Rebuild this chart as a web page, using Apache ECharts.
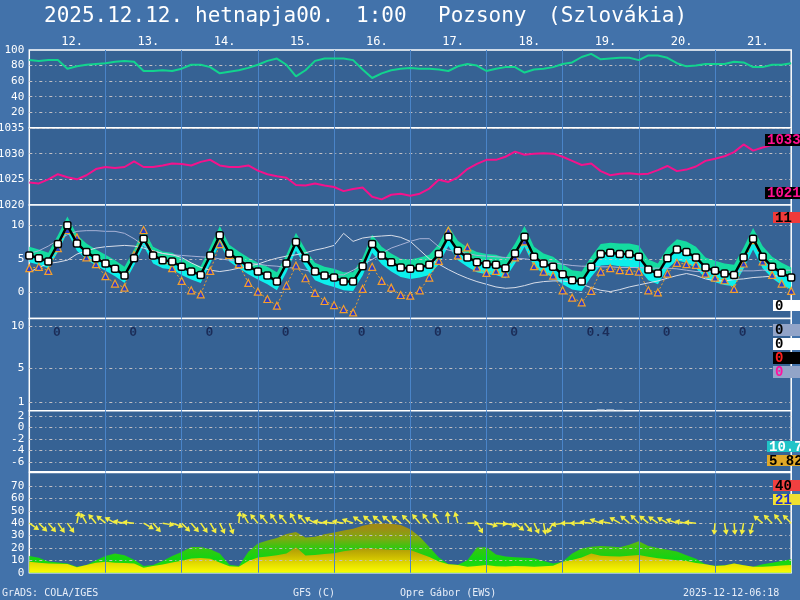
<!DOCTYPE html>
<html><head><meta charset="utf-8">
<script src="https://cdn.jsdelivr.net/npm/echarts@6/dist/echarts.min.js"></script>
<style>html,body{margin:0;padding:0;background:#4272aa;}#c{width:800px;height:600px;}</style>
</head><body><div id="c"></div>
<script>
// ---------------- DATA ----------------
const hours = []; for (let h = 0; h <= 240; h += 3) hours.push(h);
const dayLabels = ['12.','13.','14.','15.','16.','17.','18.','19.','20.','21.'];
const titleParts = ['2025.12.12.','hetnapja00.','1:00','Pozsony','(Szlovákia)'];
const footerParts = ['GrADS: COLA/IGES','GFS (C)','Opre Gábor (EWS)','2025-12-12-06:18'];

const humidity = [87,86,87,87,76,79,81,82,83,85, 86,85,73,73,74,73,76,81,81,78, 70,72,74,77,81,86,89,81,66,74,
  86,89,89,89,87,75,64,70,74,76, 77,76,76,75,73,79,82,80,73,76, 78,78,71,75,76,78,82,84,91,95,
  88,89,90,90,87,93,93,90,83,79, 80,82,82,82,85,84,78,78,81,81,83];
const pressure = [1024.4,1024.2,1025.0,1026.0,1025.4,1025.0,1025.8,1027.0,1027.4,1027.2,
  1027.4,1028.5,1027.4,1027.4,1027.7,1028.1,1028.0,1027.7,1028.4,1028.8,
  1027.7,1027.4,1027.4,1027.7,1026.7,1026.0,1025.6,1025.3,1023.9,1023.8,
  1024.2,1023.8,1023.5,1022.7,1023.1,1023.4,1021.6,1021.1,1022.0,1022.2,
  1021.8,1022.2,1023.2,1024.9,1024.5,1025.4,1027.0,1028.0,1028.8,1028.8,
  1029.4,1030.4,1029.8,1030.0,1030.1,1030.0,1029.4,1028.6,1027.8,1028.1,
  1026.6,1025.8,1026.1,1026.2,1026.0,1026.1,1026.8,1027.6,1026.6,1026.9,
  1027.5,1028.6,1029.0,1029.5,1030.3,1031.8,1030.6,1031.2,1031.7,1032.3,1033.0];
const tempMain = [5.5,5.1,4.6,7.2,10.0,7.3,6.0,5.1,4.3,3.5, 2.5,5.1,8.0,5.5,4.8,4.6,3.8,3.1,2.6,5.5,
  8.5,5.8,4.8,3.9,3.1,2.5,1.6,4.3,7.5,5.1, 3.1,2.5,2.2,1.6,1.6,3.9,7.2,5.5,4.5,3.7,
  3.5,3.7,4.1,5.7,8.3,6.2,5.2,4.5,4.2,4.1, 3.6,5.8,8.3,5.3,4.3,3.8,2.7,1.8,1.6,3.8,
  5.7,5.9,5.7,5.7,5.3,3.4,2.8,5.1,6.4,6.0, 5.2,3.7,3.2,2.8,2.6,5.2,8.0,5.3,3.8,2.9,2.2];
const tempHigh = [6.8,6.4,5.9,8.5,11.3,8.6,7.3,6.4,5.6,4.8, 3.8,6.4,9.4,6.8,6.1,5.9,5.1,4.4,3.9,6.8,
  9.9,7.1,6.1,5.2,4.4,3.8,3.0,5.6,8.9,6.4, 4.4,3.8,3.5,3.0,3.0,5.2,8.6,6.8,5.8,5.0,
  4.9,5.2,5.6,7.2,9.9,7.7,6.7,6.0,5.7,5.6, 5.1,7.3,9.9,6.8,5.8,5.3,4.2,3.3,3.1,5.3,
  7.2,7.4,7.3,7.3,7.0,4.9,4.3,6.6,7.9,7.6, 6.8,5.2,4.7,4.3,4.1,6.7,9.6,6.9,5.3,4.4,3.7];
const tempLow = [4.5,4.1,3.6,6.0,9.0,6.2,4.9,4.0,3.2,2.4, 1.4,4.0,6.9,4.3,3.6,3.4,2.6,1.9,1.4,4.3,
  7.3,4.6,3.6,2.7,1.9,1.2,0.3,3.0,6.2,3.8, 1.8,1.2,0.8,0.3,0.2,2.5,5.9,4.2,3.1,2.3,
  2.0,2.2,2.6,4.2,6.9,4.8,3.8,3.0,2.7,2.6, 2.1,4.3,6.8,3.8,2.8,2.3,1.2,0.4,0.2,2.3,
  4.0,4.1,3.9,3.8,3.5,1.8,1.2,3.5,4.8,4.4, 3.6,2.1,1.5,1.1,0.9,3.5,6.4,3.6,2.1,1.1,0.4];
const dewPoint = [3.6,3.8,3.2,6.6,9.3,8.2,5.2,4.2,2.4,1.3, 0.7,5.6,9.3,5.6,4.8,3.6,1.7,0.3,-0.3,3.2,
  7.2,5.6,4.2,1.4,0.1,-1.0,-2.0,1.0,4.0,2.1, -0.1,-1.3,-1.9,-2.5,-3.0,0.5,3.8,1.7,0.7,-0.4,
  -0.5,0.3,2.2,4.7,9.2,5.5,6.7,3.7,2.9,3.2, 2.8,5.2,7.6,3.9,3.1,2.5,0.3,-0.8,-1.5,0.2,
  3.1,3.6,3.3,3.2,3.1,0.3,0.0,2.8,4.4,4.2, 4.1,2.8,2.2,1.8,0.5,4.3,7.8,4.6,2.6,1.3,0.2];
const tempLineA = [3.0,3.7,4.3,4.5,4.8,5.7,6.2,6.6,6.8,6.9, 7.0,6.9,6.6,6.2,5.8,5.6,5.2,4.4,3.7,3.3,
  3.1,3.3,3.6,3.9,4.2,4.7,5.1,5.4,5.6,5.9, 6.3,6.6,7.0,8.8,7.6,8.1,8.3,8.4,8.5,8.2,
  7.6,6.3,5.0,4.2,3.4,2.7,2.1,1.6,1.2,0.8, 0.6,0.7,1.0,1.4,1.6,1.7,1.7,1.5,1.2,0.7,
  0.3,0.1,0.4,0.8,1.1,1.4,1.7,2.1,2.5,2.8, 2.5,2.0,1.7,1.7,1.9,2.0,2.2,2.3,2.4,2.5,2.5];
const tempLineB = [5.8,6.2,6.9,7.8,8.6,9.1,9.2,9.2,9.1,9.1, 8.8,8.0,7.0,6.2,5.8,5.6,5.5,5.4,5.3,5.2,
  5.0,4.8,4.6,4.4,4.2,4.0,3.9,3.7,3.6,3.3, 3.0,2.7,2.6,2.6,3.3,4.1,4.9,5.8,6.6,7.1,
  7.6,8.0,8.0,6.8,6.3,6.0,5.8,5.5,5.4,5.3, 5.2,5.1,5.0,4.8,4.6,4.4,4.2,4.0,3.9,3.9,
  3.8,3.8,3.7,3.7,3.7,3.6,3.6,3.6,3.5,3.3, 3.1,3.1,3.1,3.1,3.1,3.2,3.2,3.3,3.3,3.3,3.3];
const precip3h = [0,0,0,0,0,0,0,0,0,0, 0,0,0,0,0,0,0,0,0,0, 0,0,0,0,0,0,0,0,0,0, 0,0,0,0,0,0,0,0,0,0,
  0,0,0,0,0,0,0,0,0,0, 0,0,0,0,0,0,0,0,0,0, 0.15,0.15,0.1,0,0,0,0,0,0,0, 0,0,0,0,0,0,0,0,0,0,0];
const dailyPrecip = [0,0,0,0,0,0,0,0.4,0,0];
const windSpeed = [8.9,8.1,7.5,7.3,7.0,4.3,6.2,8.1,8.9,8.1, 7.8,7.5,4.0,5.4,6.6,8.2,9.7,11.4,11.9,11.2,
  8.3,5.2,4.9,9.5,12.2,13.0,14.0,15.6,20.5,13.8, 14.2,15.0,15.8,17.3,18.3,19.8,19.8,19.0,18.5,18.3,
  18.3,15.6,12.6,9.1,6.8,6.3,4.9,5.4,6.2,5.3, 5.0,5.4,5.2,4.9,5.2,5.6,8.9,10.2,12.3,15.6,
  13.6,13.2,13.0,13.6,14.3,12.8,11.6,10.8,10.0,9.4, 7.8,6.8,5.5,5.8,7.5,6.0,4.9,4.9,5.2,5.8,6.2];
const windGust = [13.5,12.0,9.0,8.2,7.5,4.9,6.2,10.0,13.5,15.6, 14.0,10.5,5.5,6.3,9.5,13.5,16.8,20.8,20.8,19.0,
  15.6,6.5,5.4,17.0,23.5,26.0,28.0,31.3,32.8,28.5, 29.0,31.0,32.5,34.0,35.5,38.0,39.5,39.9,39.5,38.5,
  35.0,29.1,20.8,12.2,7.0,6.4,10.0,20.3,20.5,14.6, 13.0,12.4,12.0,11.6,9.5,7.5,8.9,15.6,19.5,21.0,
  21.6,21.2,20.6,22.5,25.3,21.5,19.9,18.6,17.1,14.0, 11.3,6.9,5.6,6.0,7.5,6.0,4.9,6.8,8.0,9.5,10.8];
const windDir = [305,315,320,325,325,190,150,140,130,120, 100,95,300,320,280,290,315,320,325,330,
  335,340,185,150,140,140,145,140,150,140, 120,100,95,100,110,125,130,130,130,130,
  135,140,145,150,175,165,270,330,285,275, 285,310,320,335,350,30,80,90,90,95,
  110,100,120,130,135,130,125,120,110,100, 95,null,5,350,355,10,15,130,135,140,135];

const humTicks = [20,40,60,80,100];
const presTicks = [1020,1025,1030,1035];
const tempTicks = [0,5,10];
const precTicks = [1,5,10];
const p5Ticks = [-6,-4,-2,0,2];
const windTicks = [0,10,20,30,40,50,60,70];
const p5Labels = ['10.7','5.82'];

// ---------------- STYLE / LAYOUT ----------------
const OUTER = '#4272aa', INNER = '#366294';
const MONO = '"DejaVu Sans Mono", monospace';
const TEMP = 2; // temperature panel uses a category axis (for stacked band)
const panels = [
  {top:50,    height:77.8, min:0,     max:100},
  {top:128,   height:77,   min:1020,  max:1035},
  {top:205,   height:113.5,min:-3.91, max:13.03},
  {top:318.5, height:92.2, min:0,     max:10.93},
  {top:410.7, height:61,   min:-7.69, max:2.92},
  {top:472.5, height:100.2,min:0,     max:80.9}
];
const tickSets = [humTicks, presTicks, tempTicks, precTicks, p5Ticks, windTicks];
const gridLineSets = [[20,40,60,80],[1025,1030,1035],[0,5,10],[1,5,10],[-6,-4,-2,0,2],[10,20,30,40,50,60,70]];
const sepHours = []; for (let h = 24; h < 240; h += 24) sepHours.push(h);
const xy = a => a.map((v, i) => [hours[i], v]);

const grid = panels.map(p => ({left:29.3, right:8.8, top:p.top, height:p.height, show:true,
  backgroundColor:INNER, borderColor:'#ffffff', borderWidth:1.5, outerBoundsMode:'none', containLabel:false}));
const xAxis = panels.map((p, gi) => {
  const base = {gridIndex:gi, axisLine:{show:false}, axisTick:{show:false}, splitLine:{show:false}};
  if (gi === TEMP) return Object.assign(base, {type:'category', data:hours.map(String), boundaryGap:false,
    show:false, axisLabel:{show:false}});
  return Object.assign(base, {type:'value', min:0, max:240, position: gi === 0 ? 'top' : 'bottom', show: gi === 0,
    axisLabel: gi === 0 ? {customValues: dayLabels.map((_, k) => 13.5 + 24 * k),
       formatter: v => dayLabels[Math.round((v - 13.5) / 24)], color:'#ffffff', fontFamily:MONO, fontSize:12, margin:2}
     : {show:false}});
});
const yAxis = panels.map((p, gi) => ({type:'value', gridIndex:gi, min:p.min, max:p.max,
  axisLine:{show:false}, axisTick:{show:false}, splitLine:{show:false},
  axisLabel:{customValues: tickSets[gi], formatter: v => String(v), color:'#ffffff', fontFamily:MONO,
    fontSize:11, margin:5, showMinLabel:true, showMaxLabel:true, hideOverlap:false}}));

const series = [];
panels.forEach((p, gi) => {
  const isCat = gi === TEMP;
  const dummy = isCat ? [p.min] : [[0, p.min]];
  series.push({type:'line', xAxisIndex:gi, yAxisIndex:gi, data:dummy, showSymbol:false, silent:true,
    lineStyle:{opacity:0}, z:1,
    markLine:{silent:true, symbol:'none', label:{show:false}, animation:false,
      lineStyle:{type:[3,3,1,3], color:'#c4c0c4', width:1},
      data: gridLineSets[gi].map(v => ({yAxis:v}))}});
  series.push({type:'line', xAxisIndex:gi, yAxisIndex:gi, data:dummy, showSymbol:false, silent:true,
    lineStyle:{opacity:0}, z:3,
    markLine:{silent:true, symbol:'none', label:{show:false}, animation:false,
      lineStyle:{type:'solid', color:'#4a84c8', width:1},
      data: sepHours.map(h => ({xAxis: isCat ? hours.indexOf(h) : h}))}});
});

// humidity
series.push({type:'line', xAxisIndex:0, yAxisIndex:0, data:xy(humidity), showSymbol:false,
  lineStyle:{color:'#12d48e', width:2}, z:5});
// pressure
series.push({type:'line', xAxisIndex:1, yAxisIndex:1, data:xy(pressure), showSymbol:false,
  lineStyle:{color:'#f4128c', width:2}, z:5});
// temperature band (stacked on category axis)
series.push({type:'line', xAxisIndex:TEMP, yAxisIndex:TEMP, stack:'band', data:tempLow,
  showSymbol:false, lineStyle:{opacity:0}, z:2});
series.push({type:'line', xAxisIndex:TEMP, yAxisIndex:TEMP, stack:'band',
  data:tempMain.map((t, i) => +(t - tempLow[i]).toFixed(2)), showSymbol:false, lineStyle:{opacity:0},
  areaStyle:{color:'#0cf0ec', opacity:1}, z:2});
series.push({type:'line', xAxisIndex:TEMP, yAxisIndex:TEMP, stack:'band',
  data:tempHigh.map((h, i) => +(h - tempMain[i]).toFixed(2)), showSymbol:false, lineStyle:{opacity:0},
  areaStyle:{color:'#14dca0', opacity:1}, z:2});
series.push({type:'line', xAxisIndex:TEMP, yAxisIndex:TEMP, data:tempLineB, showSymbol:false,
  lineStyle:{color:'#a8b2d6', width:1}, z:4});
series.push({type:'line', xAxisIndex:TEMP, yAxisIndex:TEMP, data:tempLineA, showSymbol:false,
  lineStyle:{color:'#d8dde8', width:1}, z:4});
series.push({type:'line', xAxisIndex:TEMP, yAxisIndex:TEMP, data:dewPoint, symbol:'triangle', symbolSize:7,
  showAllSymbol:true,
  itemStyle:{color:'#2a3ccc', borderColor:'#f2a02c', borderWidth:1.2},
  lineStyle:{color:'#f2a02c', width:1, type:[2,2]}, z:5});
series.push({type:'line', xAxisIndex:TEMP, yAxisIndex:TEMP, data:tempMain, symbol:'roundRect', symbolSize:7,
  showAllSymbol:true,
  itemStyle:{color:'#ffffff', borderColor:'#000000', borderWidth:1.5},
  lineStyle:{color:'#000000', width:2.5}, z:6});
// precipitation
series.push({type:'bar', xAxisIndex:3, yAxisIndex:3, data:xy(precip3h), barWidth:8,
  itemStyle:{color:'#dde4ee'}, z:4});
series.push({type:'scatter', xAxisIndex:3, yAxisIndex:3, symbolSize:0, z:5,
  data: dailyPrecip.map((v, k) => [7.5 + 24 * k, 9.2, v]),
  label:{show:true, position:'right', distance:0, formatter: p => String(p.value[2]),
    color:'#15214a', fontFamily:'"Liberation Mono", monospace', fontWeight:'bold', fontSize:13}});
// wind fills
const greenGrad = {type:'linear', x:0, y:572.7, x2:0, y2:472.5, global:true, colorStops:[
  {offset:0, color:'#28e010'},{offset:0.14, color:'#12d412'},{offset:0.26, color:'#3cc410'},
  {offset:0.34, color:'#7caa12'},{offset:0.45, color:'#a08c14'},{offset:1, color:'#a08014'}]};
const yellowGrad = {type:'linear', x:0, y:572.7, x2:0, y2:472.5, global:true, colorStops:[
  {offset:0, color:'#fcfc00'},{offset:0.08, color:'#e6e000'},{offset:0.16, color:'#ccbc00'},
  {offset:0.24, color:'#b09c08'},{offset:0.4, color:'#9c8410'},{offset:1, color:'#9c8410'}]};
series.push({type:'line', xAxisIndex:5, yAxisIndex:5, data:xy(windGust), showSymbol:false,
  lineStyle:{width:0, opacity:0}, areaStyle:{color:greenGrad, opacity:1}, z:2});
series.push({type:'line', xAxisIndex:5, yAxisIndex:5, data:xy(windSpeed), showSymbol:false,
  lineStyle:{width:0, opacity:0}, areaStyle:{color:yellowGrad, opacity:1}, z:2});
// wind arrows
const ARROW_ROW = 40;
series.push({type:'custom', xAxisIndex:5, yAxisIndex:5, z:6, clip:false,
  data: windDir.map((d, i) => d == null ? null : [hours[i], ARROW_ROW, d]).filter(Boolean),
  renderItem: (params, api) => {
    const p = api.coord([api.value(0), api.value(1)]);
    const b = (api.value(2) + 180) * Math.PI / 180;
    const dx = Math.sin(b), dy = -Math.cos(b);
    const len = 12, hl = 5, hw = 3;
    const ex = p[0] + dx * len, ey = p[1] + dy * len;
    const bx = ex - dx * hl, by = ey - dy * hl;
    const px = -dy, py = dx;
    return {type:'group', children:[
      {type:'line', shape:{x1:p[0], y1:p[1], x2:bx, y2:by}, style:{stroke:'#f4ee40', lineWidth:1.5}},
      {type:'polygon', shape:{points:[[ex, ey],[bx + px * hw, by + py * hw],[bx - px * hw, by - py * hw]]},
        style:{fill:'#f4ee40'}}]};
  }});

// ---------------- GRAPHICS (titles, value boxes) ----------------
const graphic = [];
const titleX = [44, 195, 356, 438, 548];
titleParts.forEach((t, i) => graphic.push({type:'text', x:titleX[i], y:17,
  style:{text:t, fill:'#ffffff', font:'21px ' + MONO, textVerticalAlign:'middle'}}));
const footX = [2, 293, 400, 683];
footerParts.forEach((t, i) => graphic.push({type:'text', x:footX[i], y:593,
  style:{text:t, fill:'#e8eef8', font:'10px ' + MONO, textVerticalAlign:'middle'}}));
const pmax = Math.round(Math.max(...pressure)), pmin = Math.round(Math.min(...pressure));
const boxes = [
  [765,134,35,12,'#000000','#ff1090', String(pmax)],
  [765,187,35,12,'#000000','#ff1090', String(pmin)],
  [773,212,27,11,'#f03a3a','#000000', String(Math.round(Math.max(...tempHigh)))],
  [773,300,27,11,'#ffffff','#000000', String(Math.round(Math.min(...tempLow)))],
  [773,324,27,12,'#92a4c8','#000000','0'],
  [773,338,27,12,'#ffffff','#000000','0'],
  [773,352,27,12,'#000000','#ff2020','0'],
  [773,366,27,12,'#92a4c8','#ff10a0','0'],
  [767,441,33,11,'#20c4c8','#ffffff', p5Labels[0]],
  [767,455,33,11,'#e0a828','#000000', p5Labels[1]],
  [773,480,27,11,'#f04040','#000000', String(Math.round(Math.max(...windGust)))],
  [773,494,27,11,'#f0e030','#2030d0', String(Math.round(Math.max(...windSpeed)))]
];
boxes.forEach(b => {
  graphic.push({type:'rect', shape:{x:b[0], y:b[1], width:b[2], height:b[3]}, style:{fill:b[4]}, z:100});
  graphic.push({type:'text', x:b[0] + 2, y:b[1] + b[3] / 2 + 0.5, z:101,
    style:{text:b[6], fill:b[5], font:'bold 14px "Liberation Mono", monospace', textVerticalAlign:'middle'}});
});

const chart = echarts.init(document.getElementById('c'), null, {width:800, height:600});
chart.setOption({backgroundColor:OUTER, animation:false, grid, xAxis, yAxis, series, graphic});
</script></body></html>
